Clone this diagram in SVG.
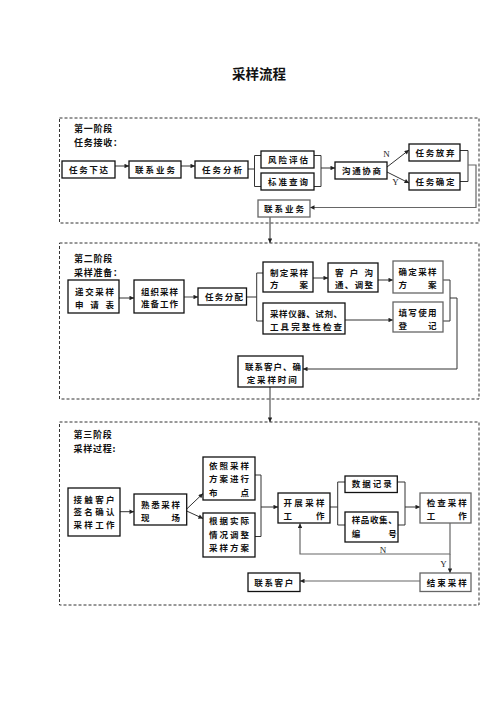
<svg xmlns="http://www.w3.org/2000/svg" width="496" height="702" viewBox="0 0 496 702">
<defs>
<marker id="ah" viewBox="0 0 10 10" refX="10" refY="5" markerWidth="5.5" markerHeight="4.5" markerUnits="userSpaceOnUse" orient="auto"><path d="M0,0 L10,5 L0,10 z" fill="#222"/></marker>
<style>
.stage{fill:none;stroke:#333;stroke-width:1;stroke-dasharray:3,2}
.box{fill:#fff;stroke:#111;stroke-width:1.3}
.gbox{fill:#fff;stroke:#666;stroke-width:1.3}
.t{font-family:"Noto Sans CJK SC","Noto Sans",sans-serif;font-weight:bold;font-size:8.5px;fill:#111}
.lab{font-family:"Noto Sans CJK SC","Noto Sans",sans-serif;font-weight:bold;font-size:9px;letter-spacing:0.75px;fill:#111}
.yn{font-family:"Liberation Serif",serif;font-size:9px;fill:#222}
.c{fill:none;stroke:#333;stroke-width:1}
.g{fill:none;stroke:#666;stroke-width:1.2}
</style>
</defs>
<rect width="496" height="702" fill="#fff"/>
<text x="259" y="78.6" text-anchor="middle" font-family="Noto Sans CJK SC, sans-serif" font-weight="bold" font-size="13.5px" fill="#111">采样流程</text>

<g id="stages">
<rect class="stage" x="59.5" y="118" width="419.5" height="105"/>
<rect class="stage" x="59.5" y="243" width="419.5" height="156"/>
<rect class="stage" x="59.5" y="422" width="419.5" height="183"/>
<text class="lab" x="74" y="131.6">第一阶段</text>
<text class="lab" x="74" y="145.5">任务接收：</text>
<text class="lab" x="74" y="262">第二阶段</text>
<text class="lab" x="74" y="275.8">采样准备：</text>
<text class="lab" x="73.5" y="438.2">第三阶段</text>
<text class="lab" x="73.5" y="452">采样过程:</text>
</g>

<g id="connectors">
<!-- stage 1 -->
<path class="c" d="M115,166 H129" marker-end="url(#ah)"/>
<path class="c" d="M181,166 H195" marker-end="url(#ah)"/>
<path class="c" d="M248,169 H254.5 M261,155.5 H254.5 V186.5 H261"/>
<path class="c" d="M314,155.5 H321 V186.5 H314"/>
<path class="c" d="M321,168 H335" marker-end="url(#ah)"/>
<path class="c" d="M387,167 L409,150" marker-end="url(#ah)"/>
<path class="c" d="M387,172 L409,183" marker-end="url(#ah)"/>
<path class="c" d="M460,150.5 H468 V181.5 H460"/>
<path class="g" d="M468,165 H476 V207.5 H310" marker-end="url(#ah)"/>
<path class="c" d="M270,217 V243" marker-end="url(#ah)"/>
<!-- stage 2 -->
<path class="c" d="M119,298 H134" marker-end="url(#ah)"/>
<path class="g" d="M184,297 H198" marker-end="url(#ah)"/>
<path class="c" d="M246.5,297 H256.7 M263,273 H256.7 V321 H263"/>
<path class="c" d="M313,278 H328" marker-end="url(#ah)"/>
<path class="c" d="M378,280 H393" marker-end="url(#ah)"/>
<path class="c" d="M345,320 H393" marker-end="url(#ah)"/>
<path class="c" d="M443,280 H450 V321 H443"/>
<path class="c" d="M450,298 H457 V369 H303" marker-end="url(#ah)"/>
<path class="c" d="M270,387 V422" marker-end="url(#ah)"/>
<!-- stage 3 -->
<path class="c" d="M120,511.7 H134" marker-end="url(#ah)"/>
<path class="c" d="M186.7,509 L203,493.5" marker-end="url(#ah)"/>
<path class="c" d="M186.7,511 L203,518.5" marker-end="url(#ah)"/>
<path class="c" d="M255,475 H261 V536.5 H255"/>
<path class="c" d="M261,507 H278" marker-end="url(#ah)"/>
<path class="c" d="M330,507 H337.7 M345,482 H337.7 V525 H345"/>
<path class="c" d="M397.3,482 H405 V525 H398"/>
<path class="c" d="M405,507 H420" marker-end="url(#ah)"/>
<path class="g" d="M450,523 V554 H300 V523.5" marker-end="url(#ah)"/>
<path class="g" d="M450,554 V573" marker-end="url(#ah)"/>
<path class="g" d="M420,581 H300" marker-end="url(#ah)"/>
<text class="yn" x="386.5" y="156.5" text-anchor="middle">N</text>
<text class="yn" x="395.5" y="185" text-anchor="middle">Y</text>
<text class="yn" x="383" y="553" text-anchor="middle">N</text>
<text class="yn" x="443.5" y="566.5" text-anchor="middle">Y</text>
</g>

<!-- stage 1 nodes -->
<g id="n_rwxd"><rect class="box" x="62" y="161" width="53" height="17"/><text class="t" x="69" y="172.7" textLength="39" lengthAdjust="spacing">任务下达</text></g>
<g id="n_lxyw1"><rect class="box" x="129" y="161" width="52" height="17"/><text class="t" x="135" y="172.7" textLength="40" lengthAdjust="spacing">联系业务</text></g>
<g id="n_rwfx"><rect class="box" x="195" y="161" width="53" height="17"/><text class="t" x="202" y="172.7" textLength="40" lengthAdjust="spacing">任务分析</text></g>
<g id="n_fxpg"><rect class="box" x="261" y="151" width="53" height="17"/><text class="t" x="268" y="162.7" textLength="40" lengthAdjust="spacing">风险评估</text></g>
<g id="n_bzcx"><rect class="box" x="261" y="173" width="53" height="17"/><text class="t" x="268" y="184.7" textLength="40" lengthAdjust="spacing">标准查询</text></g>
<g id="n_gtxs"><rect class="box" x="335" y="162" width="52" height="17"/><text class="t" x="342" y="173.7" textLength="39" lengthAdjust="spacing">沟通协商</text></g>
<g id="n_rwfq"><rect class="box" x="409" y="144" width="51" height="17"/><text class="t" x="415.5" y="155.7" textLength="39" lengthAdjust="spacing">任务放弃</text></g>
<g id="n_rwqd"><rect class="box" x="409" y="173" width="51" height="17"/><text class="t" x="415.5" y="184.7" textLength="39" lengthAdjust="spacing">任务确定</text></g>
<g id="n_lxyw2"><rect class="gbox" x="258" y="200" width="52" height="17"/><text class="t" x="264" y="211.7" textLength="40" lengthAdjust="spacing">联系业务</text></g>

<!-- stage 2 nodes -->
<g id="n_djcy"><rect class="box" x="68" y="280" width="51" height="33"/><text class="t" x="75" y="295" textLength="39" lengthAdjust="spacing">递交采样</text><text class="t" x="75" y="307.5" textLength="39" lengthAdjust="spacing">申 请 表</text></g>
<g id="n_zzcy"><rect class="box" x="134" y="280" width="50" height="33"/><text class="t" x="141" y="295" textLength="37" lengthAdjust="spacing">组织采样</text><text class="t" x="141" y="307" textLength="37" lengthAdjust="spacing">准备工作</text></g>
<g id="n_rwfp"><rect class="box" x="198" y="288" width="48.5" height="17"/><text class="t" x="205" y="299.8" textLength="38" lengthAdjust="spacing">任务分配</text></g>
<g id="n_zdcy"><rect class="box" x="263" y="262" width="50" height="30"/><text class="t" x="270" y="276" textLength="38" lengthAdjust="spacing">制定采样</text><text class="t" x="270" y="288.2" textLength="38" lengthAdjust="spacing">方 案</text></g>
<g id="n_khgt"><rect class="box" x="328" y="263" width="50" height="29"/><text class="t" x="335" y="276" textLength="38" lengthAdjust="spacing">客 户 沟</text><text class="t" x="335" y="288.2" textLength="38" lengthAdjust="spacing">通、调整</text></g>
<g id="n_qdcy"><rect class="gbox" x="393" y="261" width="50" height="32"/><text class="t" x="398.5" y="275" textLength="38" lengthAdjust="spacing">确定采样</text><text class="t" x="398.5" y="288.2" textLength="38" lengthAdjust="spacing">方 案</text></g>
<g id="n_cyyq"><rect class="box" x="263" y="303" width="82" height="31"/><text class="t" x="270" y="316.5" textLength="72" lengthAdjust="spacing">采样仪器、试剂、</text><text class="t" x="270" y="330" textLength="72" lengthAdjust="spacing">工具完整性检查</text></g>
<g id="n_txsy"><rect class="gbox" x="393" y="302" width="50" height="30"/><text class="t" x="398.5" y="315.5" textLength="38" lengthAdjust="spacing">填写使用</text><text class="t" x="398.5" y="328.5" textLength="38" lengthAdjust="spacing">登 记</text></g>
<g id="n_lxkh1"><rect class="box" x="238" y="356" width="65" height="31"/><text class="t" x="245" y="370" textLength="56" lengthAdjust="spacing">联系客户、确</text><text class="t" x="246.7" y="382.5" textLength="50" lengthAdjust="spacing">定采样时间</text></g>

<!-- stage 3 nodes -->
<g id="n_jckh"><rect class="box" x="68" y="488" width="52" height="48"/><text class="t" x="73.5" y="502.5" textLength="41" lengthAdjust="spacing">接触客户</text><text class="t" x="73.5" y="515" textLength="41" lengthAdjust="spacing">签名确认</text><text class="t" x="73.5" y="527.5" textLength="41" lengthAdjust="spacing">采样工作</text></g>
<g id="n_sxcy"><rect class="box" x="134" y="494" width="52.7" height="31"/><text class="t" x="141" y="507.5" textLength="39" lengthAdjust="spacing">熟悉采样</text><text class="t" x="141" y="520.5" textLength="39" lengthAdjust="spacing">现 场</text></g>
<g id="n_yzcy"><rect class="box" x="203" y="457" width="52" height="43"/><text class="t" x="209" y="469.2" textLength="40" lengthAdjust="spacing">依照采样</text><text class="t" x="209" y="482.2" textLength="40" lengthAdjust="spacing">方案进行</text><text class="t" x="209" y="495.5" textLength="40" lengthAdjust="spacing">布 点</text></g>
<g id="n_gjsj"><rect class="box" x="203" y="513" width="52" height="44"/><text class="t" x="209" y="524.2" textLength="40" lengthAdjust="spacing">根据实际</text><text class="t" x="209" y="537.5" textLength="40" lengthAdjust="spacing">情况调整</text><text class="t" x="209" y="550.9" textLength="40" lengthAdjust="spacing">采样方案</text></g>
<g id="n_kzcy"><rect class="box" x="278" y="493" width="52" height="30"/><text class="t" x="283.5" y="506" textLength="41" lengthAdjust="spacing">开展采样</text><text class="t" x="283.5" y="519.2" textLength="41" lengthAdjust="spacing">工 作</text></g>
<g id="n_sjjl"><rect class="box" x="345" y="476" width="52.3" height="16.5"/><text class="t" x="351.7" y="487.3" textLength="40" lengthAdjust="spacing">数据记录</text></g>
<g id="n_ypsj"><rect class="box" x="345" y="512" width="53" height="30"/><text class="t" x="351.7" y="522.5" textLength="45" lengthAdjust="spacing">样品收集、</text><text class="t" x="351.7" y="536.5" textLength="45" lengthAdjust="spacing">编 号</text></g>
<g id="n_jccy"><rect class="gbox" x="420" y="493" width="51" height="30"/><text class="t" x="426.7" y="506" textLength="40" lengthAdjust="spacing">检查采样</text><text class="t" x="426.7" y="519.2" textLength="40" lengthAdjust="spacing">工 作</text></g>
<g id="n_jscy"><rect class="gbox" x="420" y="573" width="51" height="18.5"/><text class="t" x="426.7" y="585.7" textLength="40" lengthAdjust="spacing">结束采样</text></g>
<g id="n_lxkh2"><rect class="box" x="248" y="573" width="52" height="18.5"/><text class="t" x="254.3" y="585.7" textLength="39" lengthAdjust="spacing">联系客户</text></g>
</svg>
